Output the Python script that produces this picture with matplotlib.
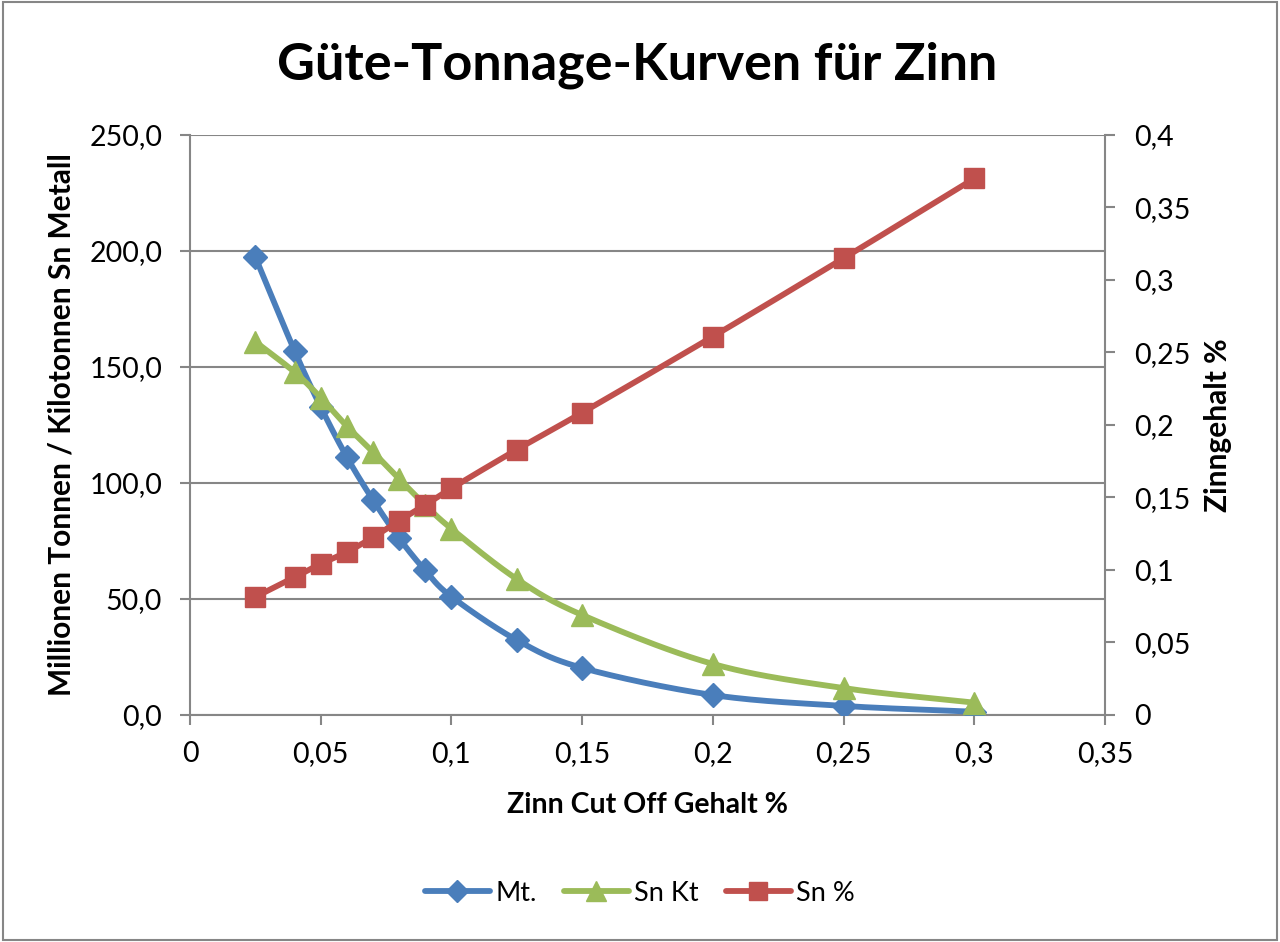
import numpy as np
import matplotlib
matplotlib.use("Agg")
import matplotlib.pyplot as plt
from matplotlib.patches import Rectangle

plt.rcParams['font.family'] = ['Lato', 'DejaVu Sans']

# Daten
cut_off = [0.025, 0.04, 0.05, 0.06, 0.07, 0.08, 0.09, 0.1, 0.125, 0.15, 0.2, 0.25, 0.3]
mt = [197.4, 157.0, 132.8, 111.2, 92.7, 76.2, 62.3, 51.0, 32.3, 20.3, 8.6, 3.9, 1.4]
sn_kt = [160.9, 147.8, 136.8, 124.5, 113.4, 101.8, 90.5, 80.3, 58.6, 43.1, 22.0, 11.6, 5.3]
sn_pct = [0.0814, 0.0950, 0.1042, 0.1124, 0.1225, 0.1340, 0.1448, 0.1563, 0.1830, 0.2085, 0.2610, 0.3150, 0.3700]

x_ticks = [0, 0.05, 0.1, 0.15, 0.2, 0.25, 0.3, 0.35]
x_labels = ['0', '0,05', '0,1', '0,15', '0,2', '0,25', '0,3', '0,35']
y_ticks = [0, 50, 100, 150, 200, 250]
y_labels = ['0,0', '50,0', '100,0', '150,0', '200,0', '250,0']
y2_ticks = [0, 0.05, 0.1, 0.15, 0.2, 0.25, 0.3, 0.35, 0.4]
y2_labels = ['0', '0,05', '0,1', '0,15', '0,2', '0,25', '0,3', '0,35', '0,4']

blau = '#4A7EBB'
gruen = '#9BBB59'
rot = '#C0504D'
grau = '#868686'


def smooth(x, y, n=24):
    # Catmull-Rom Glättung wie bei Excel "geglättete Linie"
    x = np.asarray(x, float)
    y = np.asarray(y, float)
    px = np.concatenate([[2 * x[0] - x[1]], x, [2 * x[-1] - x[-2]]])
    py = np.concatenate([[2 * y[0] - y[1]], y, [2 * y[-1] - y[-2]]])
    xs, ys = [], []
    t = np.linspace(0, 1, n, endpoint=False)
    for i in range(1, len(px) - 2):
        for p, out in ((px, xs), (py, ys)):
            p0, p1, p2, p3 = p[i - 1], p[i], p[i + 1], p[i + 2]
            out.extend(0.5 * (2 * p1 + (-p0 + p2) * t
                              + (2 * p0 - 5 * p1 + 4 * p2 - p3) * t ** 2
                              + (-p0 + 3 * p1 - 3 * p2 + p3) * t ** 3))
    xs.append(x[-1])
    ys.append(y[-1])
    return xs, ys


fig = plt.figure(figsize=(12.8, 9.42), dpi=100)
ax = fig.add_axes([0.1484, 0.241, 0.8633 - 0.1484, 0.8567 - 0.241])
ax2 = ax.twinx()

lw = 4.2
sx, sy = smooth(cut_off, mt)
ax.plot(sx, sy, color=blau, lw=lw, solid_capstyle='round', zorder=3)
ax.plot(cut_off, mt, ls='none', marker='D', ms=12, color=blau, zorder=4)
sx, sy = smooth(cut_off, sn_kt)
ax.plot(sx, sy, color=gruen, lw=lw, solid_capstyle='round', zorder=5)
ax.plot(cut_off, sn_kt, ls='none', marker='^', ms=16, color=gruen, zorder=6)
sx, sy = smooth(cut_off, sn_pct)
ax2.plot(sx, sy, color=rot, lw=lw, solid_capstyle='round', zorder=3)
ax2.plot(cut_off, sn_pct, ls='none', marker='s', ms=15, color=rot, zorder=4)

ax.set_xlim(0, 0.35)
ax.set_ylim(0, 250)
ax2.set_ylim(0, 0.4)
ax.set_xticks(x_ticks, x_labels)
ax.set_yticks(y_ticks, y_labels)
ax2.set_yticks(y2_ticks, y2_labels)

ax.yaxis.grid(True, color=grau, lw=1.5)
ax.set_axisbelow(True)
for a in (ax, ax2):
    a.spines['top'].set_visible(False)
    for s in ('left', 'bottom', 'right'):
        a.spines[s].set_color(grau)
        a.spines[s].set_linewidth(1.5)
    a.tick_params(colors=grau, labelcolor='black', width=1.5, length=7,
                  labelsize=20.5)
ax.spines['right'].set_visible(False)
ax2.spines['left'].set_visible(False)
ax2.spines['bottom'].set_visible(False)
ax.tick_params(axis='y', pad=13)
ax.tick_params(axis='x', pad=12)
ax2.tick_params(axis='y', pad=14)

ax.set_xlabel('Zinn Cut Off Gehalt %', fontsize=20.5, fontweight='bold', labelpad=18)
ax.set_ylabel('Millionen Tonnen / Kilotonnen Sn Metall', fontsize=21.5,
              fontweight='bold', labelpad=10)
ax2.set_ylabel('Zinngehalt %', fontsize=21.5, fontweight='bold', labelpad=10)

fig.text(0.498, 0.931, 'Güte-Tonnage-Kurven für Zinn', ha='center', va='center',
         fontsize=37.5, fontweight='bold')

h1 = plt.Line2D([], [], color=blau, lw=lw, marker='D', ms=11.5, solid_capstyle='round')
h2 = plt.Line2D([], [], color=gruen, lw=lw, marker='^', ms=14, solid_capstyle='round')
h3 = plt.Line2D([], [], color=rot, lw=lw, marker='s', ms=13, solid_capstyle='round')
fig.legend([h1, h2, h3], ['Mt.', 'Sn Kt', 'Sn %'], loc='center',
           bbox_to_anchor=(0.5, 0.052), ncol=3, frameon=False, fontsize=19.5,
           handlelength=2.4, columnspacing=1.0, handletextpad=0.2)

fig.patches.append(Rectangle((0.002, 0.002), 0.996, 0.996, transform=fig.transFigure,
                             fill=False, edgecolor=grau, lw=1.5))

fig.savefig('out.png', dpi=100)
